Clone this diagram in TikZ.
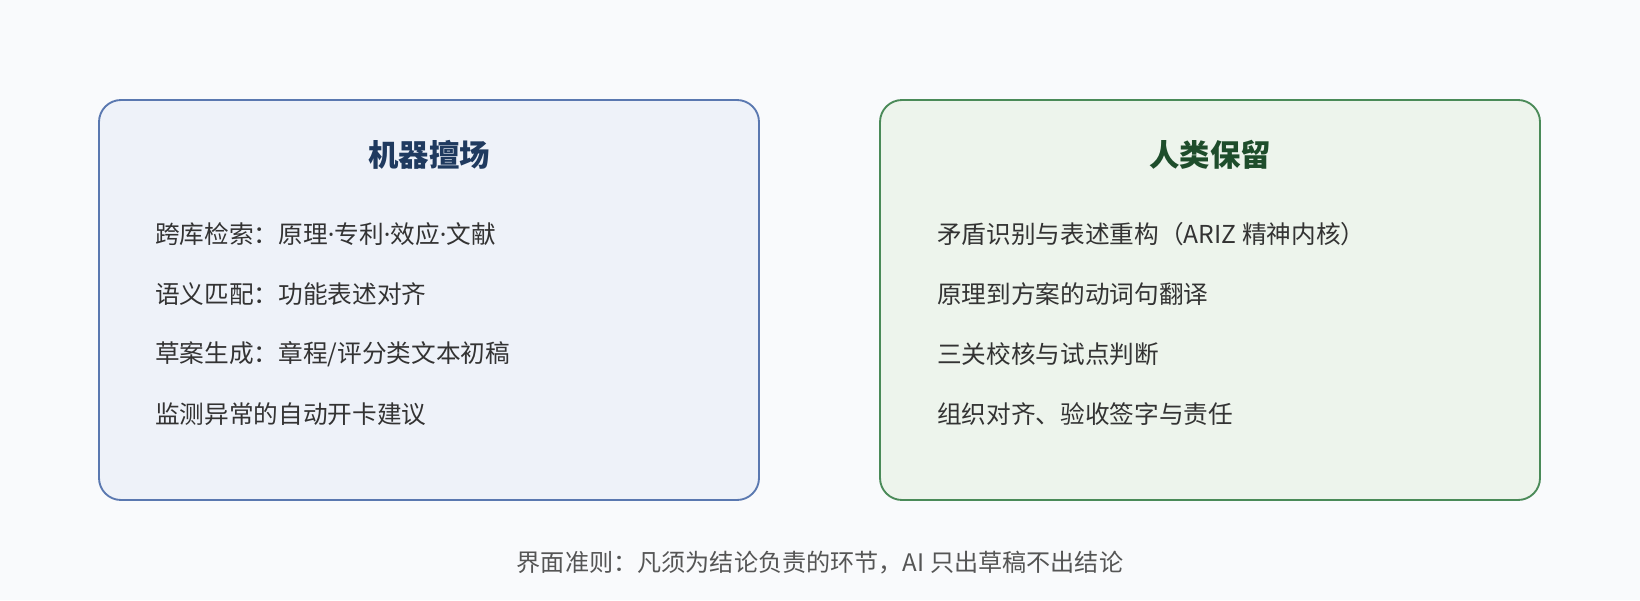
\documentclass[tikz,border=0pt]{standalone}
\usepackage{fontspec}
\setmainfont{Noto Sans CJK SC}
\newfontfamily\latinfont{Noto Sans}
\newcommand{\mdot}{{\latinfont ·}}
\definecolor{bg}{HTML}{F9FAFC}
\definecolor{bluefill}{HTML}{EEF2F9}
\definecolor{bluestroke}{HTML}{5A78B0}
\definecolor{bluetitle}{HTML}{1F3A5F}
\definecolor{greenfill}{HTML}{EDF4EC}
\definecolor{greenstroke}{HTML}{4A8A58}
\definecolor{greentitle}{HTML}{1E4D2B}
\definecolor{itemtext}{HTML}{333333}
\definecolor{foottext}{HTML}{555555}
\begin{document}
\begin{tikzpicture}[x=0.75pt,y=-0.75pt,
  panel/.style={rounded corners=16.5pt, line width=1.4pt},
  ptitle/.style={font=\fontsize{22.8}{27}\selectfont\bfseries, inner sep=0pt},
  item/.style={anchor=west, font=\fontsize{18.5}{22}\selectfont, text=itemtext, inner sep=0pt},
  foot/.style={font=\fontsize{18.1}{22}\selectfont, text=foottext, inner sep=0pt}]
\fill[bg] (0,0) rectangle (1640,600);
\useasboundingbox (0,0) rectangle (1640,600);
\draw[panel, fill=bluefill, draw=bluestroke] (99,100) rectangle (759,500);
\draw[panel, fill=greenfill, draw=greenstroke] (880,100) rectangle (1540,500);
\node[ptitle, text=bluetitle] (t1) at (429,155) {机器擅场};
\node[ptitle, text=greentitle] (t2) at (1210,155) {人类保留};
\node[item] (a1) at (155,234) {跨库检索：原理\mdot 专利\mdot 效应\mdot 文献};
\node[item] (a2) at (155,294) {语义匹配：功能表述对齐};
\node[item] (a3) at (155,354) {草案生成：章程/评分类文本初稿};
\node[item] (a4) at (155,414) {监测异常的自动开卡建议};
\node[item] (b1) at (937,234) {矛盾识别与表述重构（ARIZ 精神内核）};
\node[item] (b2) at (937,294) {原理到方案的动词句翻译};
\node[item] (b3) at (937,354) {三关校核与试点判断};
\node[item] (b4) at (937,414) {组织对齐、验收签字与责任};
\node[foot] (f) at (820,563) {界面准则：凡须为结论负责的环节，AI 只出草稿不出结论};
\end{tikzpicture}
\end{document}
